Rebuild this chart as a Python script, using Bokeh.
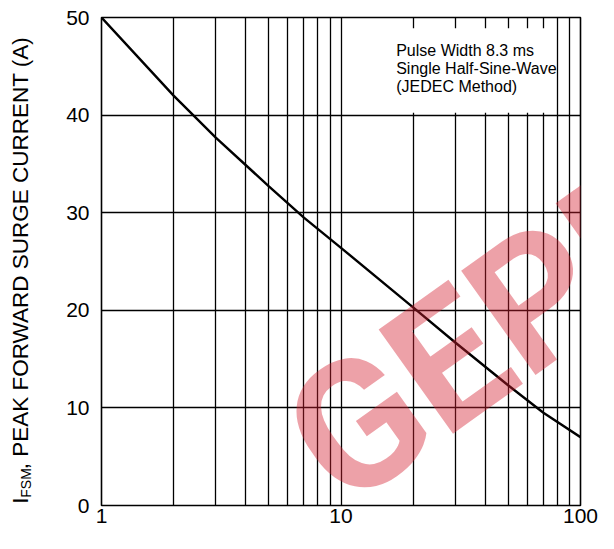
import math
from bokeh.plotting import figure
from bokeh.layouts import row
from bokeh.models import FixedTicker, Label, BoxAnnotation
from bokeh.embed import file_html
from bokeh.resources import INLINE

# ---- data ----
cycles = [1, 2, 3, 5, 7, 10, 20, 30, 50, 70, 100]
current = [50.0, 42.0, 37.7, 32.7, 29.5, 26.4, 20.3, 16.7, 12.3, 9.5, 7.0]

x_ticks = [1, 10, 100]
x_tick_labels = ["1", "10", "100"]
x_grid = [1, 2, 3, 4, 5, 6, 7, 8, 9, 10, 20, 30, 40, 50, 60, 70, 80, 90, 100]
y_ticks = [0, 10, 20, 30, 40, 50]

note_lines = ["Pulse Width 8.3 ms", "Single Half-Sine-Wave", "(JEDEC Method)"]
ylabel_main = "I"
ylabel_sub = "FSM"
ylabel_rest = ", PEAK FORWARD SURGE CURRENT (A)"
watermark = "GEPM"

FONT = "Liberation Sans"
TOTAL_W, TOTAL_H = 598, 533
LABEL_W = 40

# ---- narrow panel carrying the rotated y-axis title (with subscript) ----
lab = figure(width=LABEL_W, height=TOTAL_H, x_range=(0, LABEL_W), y_range=(0, TOTAL_H),
             output_backend="svg", toolbar_location=None,
             x_axis_location=None, y_axis_location=None,
             min_border=0, min_border_left=0, min_border_right=0,
             min_border_top=0, min_border_bottom=0)
lab.grid.visible = False
lab.outline_line_color = None
lab.background_fill_color = "white"
lab.border_fill_color = "white"
ang = math.pi / 2
lab.add_layout(Label(x=20, y=2, text=ylabel_main, angle=ang,
                     text_font=FONT, text_font_size="22.5px", text_color="black",
                     text_baseline="middle", text_align="left"))
lab.add_layout(Label(x=25.5, y=8.5, text=ylabel_sub, angle=ang,
                     text_font=FONT, text_font_size="14px", text_color="black",
                     text_baseline="middle", text_align="left"))
lab.add_layout(Label(x=20, y=39.5, text=ylabel_rest, angle=ang,
                     text_font=FONT, text_font_size="22.5px", text_color="black",
                     text_baseline="middle", text_align="left"))

# ---- main chart ----
p = figure(width=TOTAL_W - LABEL_W, height=TOTAL_H, x_axis_type="log",
           x_range=(1, 100), y_range=(0, 50),
           output_backend="svg", toolbar_location=None,
           min_border_left=61, min_border_right=18,
           min_border_top=17, min_border_bottom=28)

p.background_fill_color = "white"
p.border_fill_color = "white"
p.outline_line_color = "black"
p.outline_line_width = 1.6

p.xgrid[0].ticker = FixedTicker(ticks=x_grid)
p.ygrid[0].ticker = FixedTicker(ticks=y_ticks)
for g in (p.xgrid[0], p.ygrid[0]):
    g.grid_line_color = "black"
    g.grid_line_width = 1.3
    g.grid_line_alpha = 1.0

p.xaxis.ticker = FixedTicker(ticks=x_ticks)
p.xaxis.major_label_overrides = {t: l for t, l in zip(x_ticks, x_tick_labels)}
p.yaxis.ticker = FixedTicker(ticks=y_ticks)
for ax in (p.xaxis[0], p.yaxis[0]):
    ax.axis_line_color = None
    ax.major_tick_line_color = None
    ax.minor_tick_line_color = None
    ax.major_tick_in = 0
    ax.major_tick_out = 0
    ax.minor_tick_in = 0
    ax.minor_tick_out = 0
    ax.major_label_text_font = FONT
    ax.major_label_text_font_size = "21px"
    ax.major_label_text_color = "black"
p.xaxis.major_label_standoff = 3
p.yaxis.major_label_standoff = 12

# curve
p.line(cycles, current, line_color="black", line_width=2.4)

# note box
p.add_layout(BoxAnnotation(left=15.5, right=76.0, top=48.9, bottom=40.25,
                           fill_color="white", fill_alpha=1.0,
                           line_color=None, line_alpha=0))
for txt, yv in zip(note_lines, [46.6, 44.75, 42.9]):
    p.add_layout(Label(x=17.0, y=yv, text=txt, text_font=FONT,
                       text_font_size="16px", text_color="black",
                       text_baseline="middle", text_align="left"))

# watermark
p.add_layout(Label(x=7.3, y=4.5, text=watermark, angle=0.62,
                   text_font="Roboto", text_font_style="bold",
                   text_font_size="180px", text_color="#d42030",
                   text_alpha=0.42, text_baseline="alphabetic",
                   text_align="left"))

layout = row(lab, p, spacing=0)
open("out.html", "w").write(file_html(layout, INLINE))
